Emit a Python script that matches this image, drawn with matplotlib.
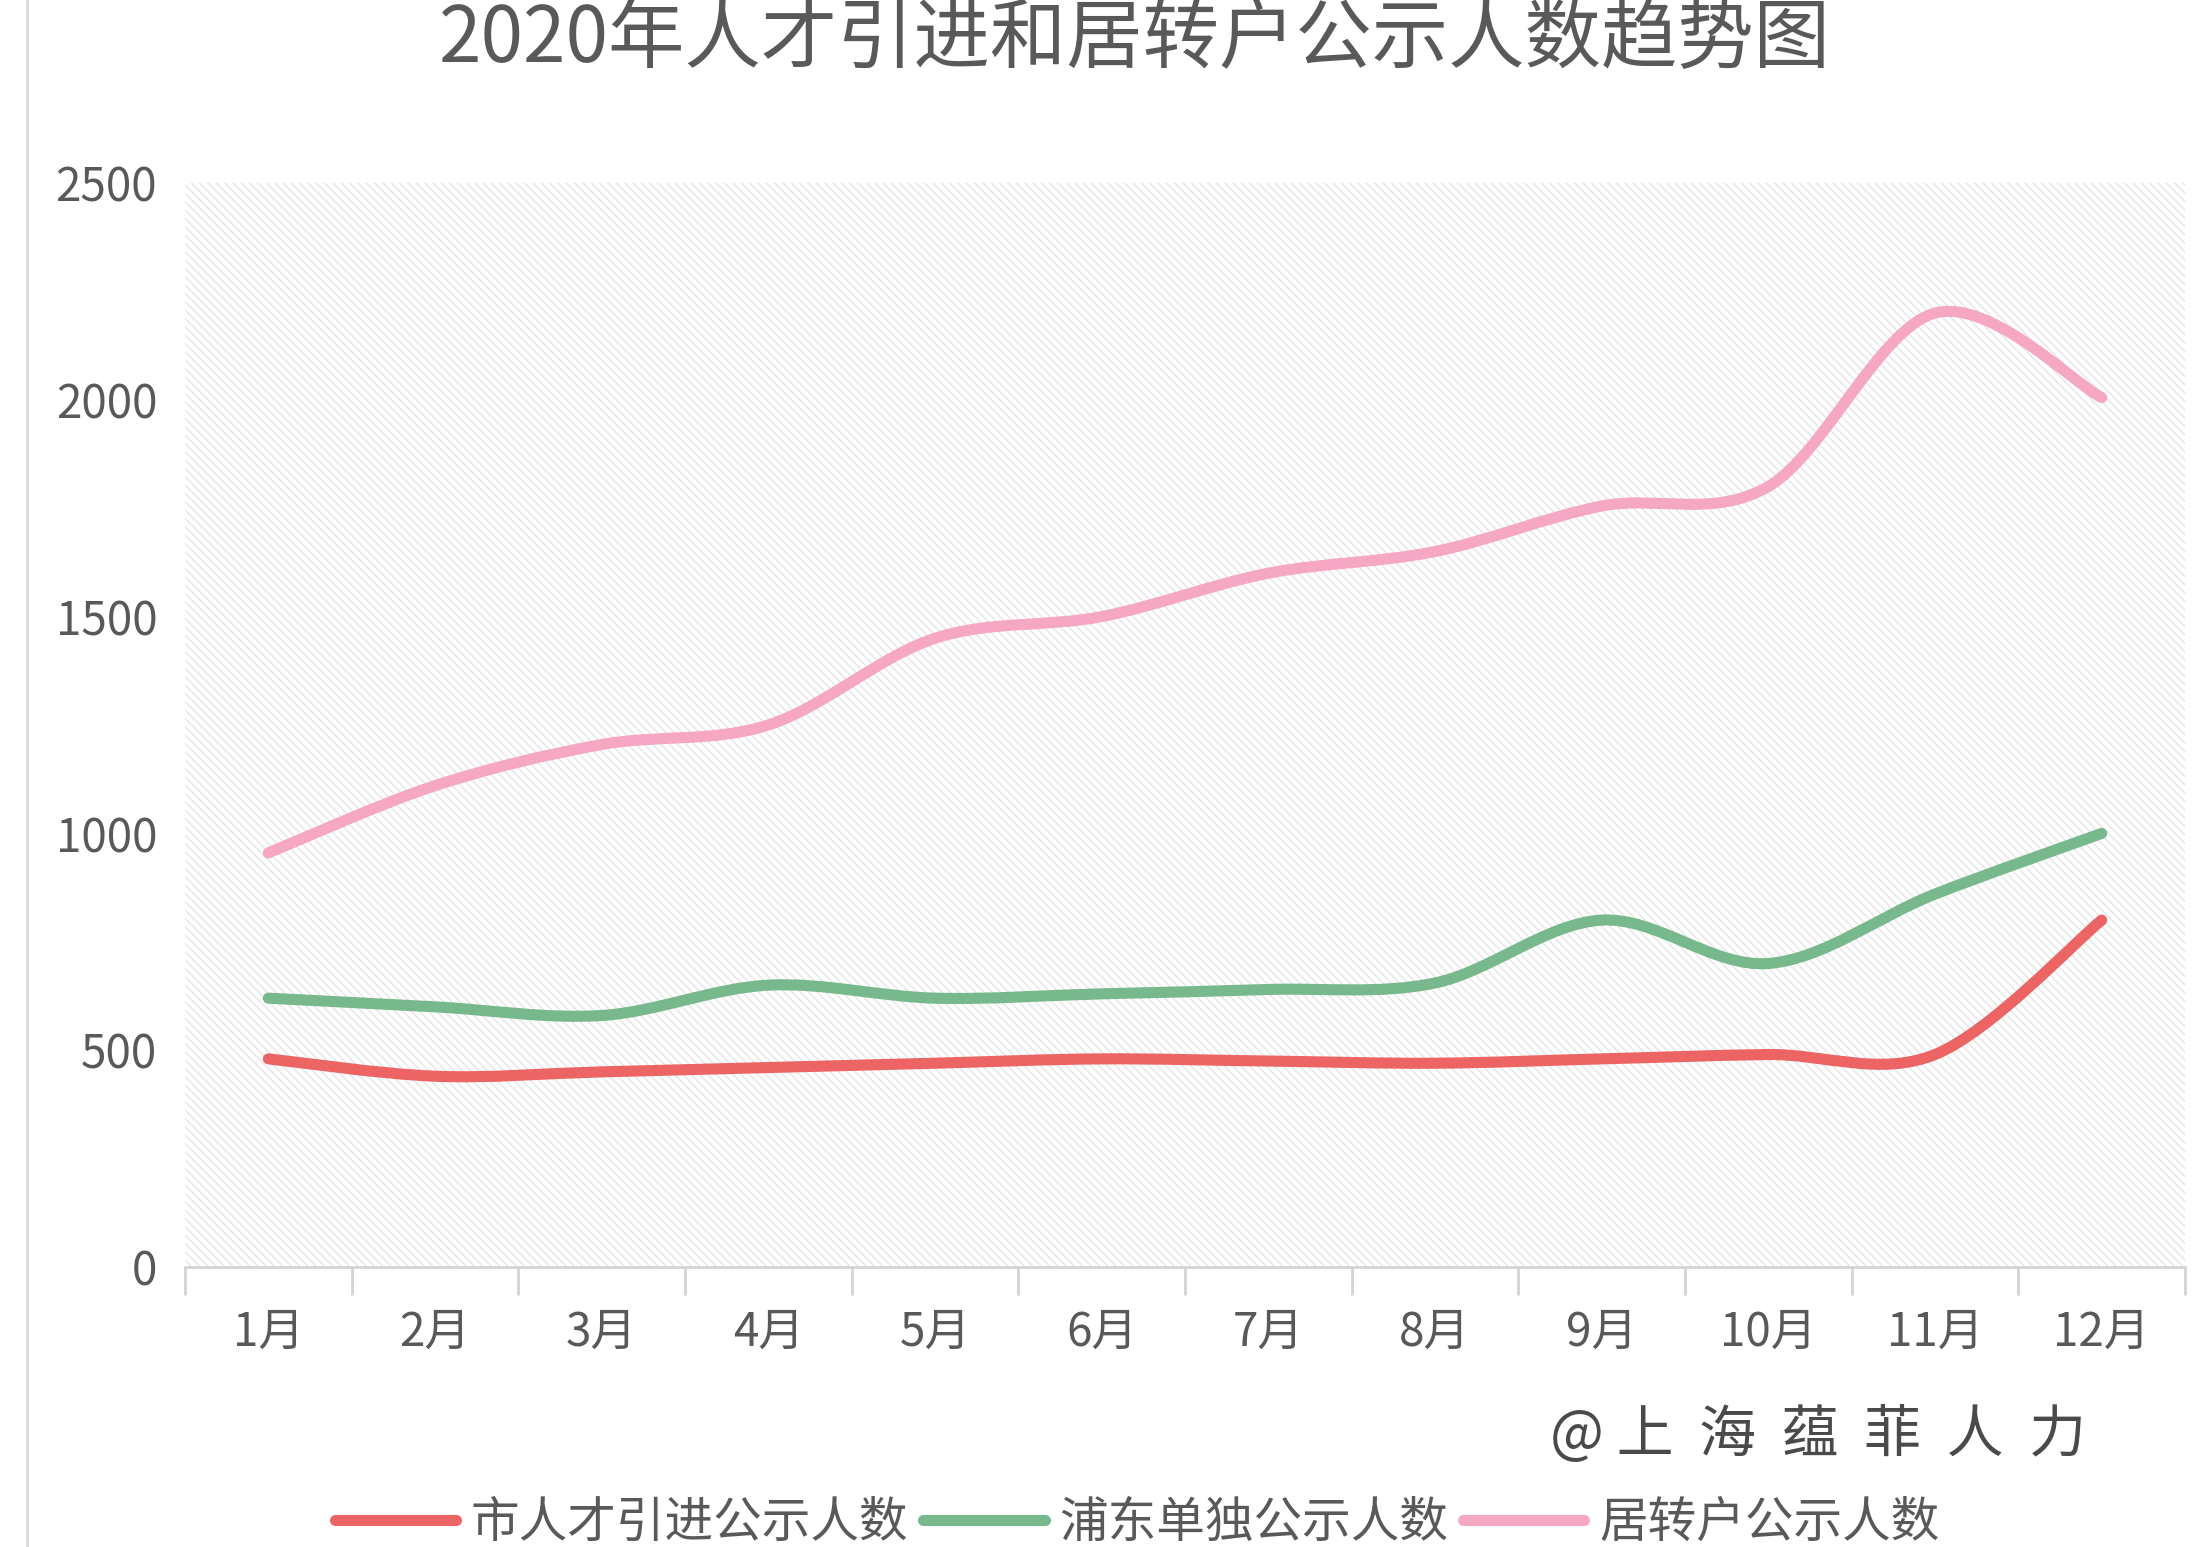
import numpy as np
import matplotlib
matplotlib.use('Agg')
import matplotlib.pyplot as plt
from matplotlib.path import Path
from matplotlib.patches import PathPatch, Rectangle
from matplotlib.lines import Line2D

plt.rcParams['font.family'] = ['Noto Sans CJK SC', 'DejaVu Sans']

# %% data
months = ['1月', '2月', '3月', '4月', '5月', '6月',
          '7月', '8月', '9月', '10月', '11月', '12月']
city_talent = [480, 440, 450, 460, 470, 480, 475, 470, 480, 490, 490, 800]
pudong = [620, 600, 580, 650, 620, 630, 640, 655, 800, 700, 860, 1000]
residence = [955, 1110, 1205, 1250, 1450, 1500, 1600, 1650, 1755, 1800, 2200, 2005]

series = [
    {'y': city_talent, 'label': '市人才引进公示人数', 'color': '#ec6464'},
    {'y': pudong, 'label': '浦东单独公示人数', 'color': '#77b98c'},
    {'y': residence, 'label': '居转户公示人数', 'color': '#f5a7c3'},
]


def smooth_path(xs, ys):
    # excel style smoothed line: cubic bezier through every point
    pts = np.column_stack([xs, ys]).astype(float)
    ext = np.vstack([pts[0], pts, pts[-1]])
    verts = [pts[0]]
    codes = [Path.MOVETO]
    for i in range(1, len(ext) - 2):
        p0, p1, p2, p3 = ext[i - 1], ext[i], ext[i + 1], ext[i + 2]
        verts += [p1 + (p2 - p0) / 6, p2 - (p3 - p1) / 6, p2]
        codes += [Path.CURVE4] * 3
    return Path(verts, codes)


# %% figure
fig = plt.figure(figsize=(22.08, 15.47), dpi=100)
ax = fig.add_axes([185 / 2208, 1 - 1267 / 1547, 2000 / 2208, 1084 / 1547])

ax.set_xlim(-0.5, 11.5)
ax.set_ylim(0, 2500)

# hatched plot area
ax.add_patch(Rectangle((-0.5, 0), 12, 2500, facecolor='white',
                       edgecolor='#e6e6e6', hatch='\\\\\\\\', lw=0, zorder=0))

x = np.arange(len(months))
for s in series:
    ax.add_patch(PathPatch(smooth_path(x, s['y']), fill=False,
                           edgecolor=s['color'], lw=8, capstyle='round',
                           joinstyle='round', zorder=3))

for side in ['top', 'right', 'left']:
    ax.spines[side].set_visible(False)
ax.spines['bottom'].set_color('#d4d4d4')
ax.spines['bottom'].set_linewidth(2)

ax.set_yticks([0, 500, 1000, 1500, 2000, 2500])
ax.tick_params(axis='y', length=0, labelsize=33, labelcolor='#595959', pad=20)
ax.set_xticks(x)
ax.set_xticklabels(months)
ax.tick_params(axis='x', length=0, labelsize=33, labelcolor='#595959', pad=30)
ax.set_xticks(np.arange(-0.5, 12, 1), minor=True)
ax.tick_params(axis='x', which='minor', length=20, width=2, color='#d4d4d4')

fig.text(0.514, 0.974, '2020年人才引进和居转户公示人数趋势图', ha='center', va='center',
         fontsize=55, color='#595959')

fig.text(0.8234, 1 - 1436 / 1547, '@ 上  海  蕴  菲  人  力', ha='center', va='center',
         fontsize=41, color='#4a4a4a', fontweight='medium')

# left border line
fig.add_artist(Line2D([27 / 2208, 27 / 2208], [0, 1], color='#dcdcdc', lw=2))

handles = [Line2D([], [], color=s['color'], lw=8, solid_capstyle='round') for s in series]
fig.legend(handles, [s['label'] for s in series], loc='center',
           bbox_to_anchor=(0.515, 1 - 1523 / 1547), ncol=3, frameon=False,
           fontsize=35, labelcolor='#595959', handlelength=2.5,
           handletextpad=0.3, columnspacing=0.3)

fig.savefig('out.png', dpi=100, facecolor='white')
